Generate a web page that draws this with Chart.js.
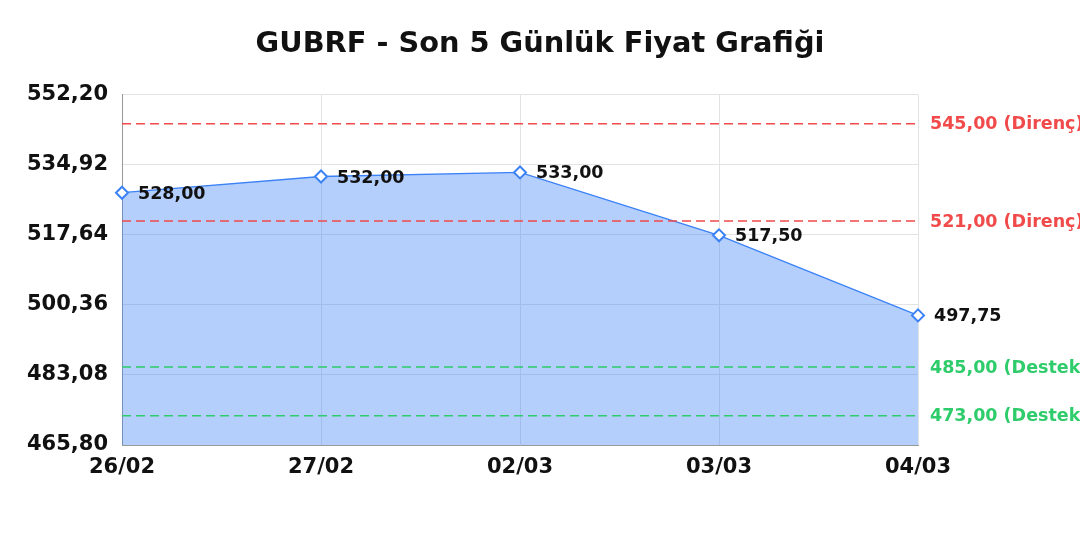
<!DOCTYPE html>
<html lang="tr">
<head>
  <meta charset="UTF-8">
  <script src="https://cdn.jsdelivr.net/npm/chart.js"></script>
  <title>GUBRF - Son 5 Günlük Fiyat Grafiği</title>
  <style>
    html, body { margin: 0; padding: 0; background: #fff; }
    #wrap { width: 1080px; height: 540px; }
  </style>
</head>
<body>
  <div id="wrap"><canvas id="grafik"></canvas></div>

  <script>
    // dados do grafico
    var tarihler = ['26/02', '27/02', '02/03', '03/03', '04/03'];
    var fiyatlar = [528.00, 532.00, 533.00, 517.50, 497.75];
    var yTikler = [465.80, 483.08, 500.36, 517.64, 534.92, 552.20];
    var direncler = [545.00, 521.00];
    var destekler = [485.00, 473.00];

    var FONTE = '"DejaVu Sans", Verdana, sans-serif';

    function formatTr(v) {
      return v.toFixed(2).replace('.', ',');
    }

    // linhas de suporte / resistencia + rotulos dos pontos
    var seviyePlugin = {
      id: 'seviyeler',
      afterDatasetsDraw: function (chart) {
        var ctx = chart.ctx;
        var y = chart.scales.y;
        var area = chart.chartArea;
        var seviyeler = [];
        direncler.forEach(function (d) { seviyeler.push({ v: d, renk: '#f04a4a', ad: 'Direnç' }); });
        destekler.forEach(function (d) { seviyeler.push({ v: d, renk: '#2ecc6a', ad: 'Destek' }); });

        ctx.save();
        seviyeler.forEach(function (s) {
          var py = y.getPixelForValue(s.v);
          ctx.strokeStyle = s.renk;
          ctx.lineWidth = 1.5;
          ctx.setLineDash([9, 5]);
          ctx.beginPath();
          ctx.moveTo(area.left, py);
          ctx.lineTo(area.right, py);
          ctx.stroke();
          ctx.setLineDash([]);
          ctx.fillStyle = s.renk;
          ctx.font = 'bold 17.5px ' + FONTE;
          ctx.textAlign = 'left';
          ctx.textBaseline = 'middle';
          ctx.fillText(formatTr(s.v) + ' (' + s.ad + ')', area.right + 12, py + 1);
        });

        var meta = chart.getDatasetMeta(0);
        ctx.fillStyle = '#111';
        ctx.font = 'bold 17.5px ' + FONTE;
        ctx.textAlign = 'left';
        ctx.textBaseline = 'middle';
        meta.data.forEach(function (p, i) {
          ctx.fillText(formatTr(fiyatlar[i]), p.x + 16, p.y + 1.5);
        });
        ctx.restore();
      }
    };

    var ctx = document.getElementById('grafik').getContext('2d');
    var grafik = new Chart(ctx, {
      type: 'line',
      data: {
        labels: tarihler,
        datasets: [{
          label: 'GUBRF',
          data: fiyatlar,
          borderColor: '#3b82f6',
          borderWidth: 1.3,
          backgroundColor: 'rgba(59, 130, 246, 0.38)',
          fill: 'start',
          tension: 0,
          pointStyle: 'rectRot',
          pointRadius: 6,
          pointBorderWidth: 2,
          pointBackgroundColor: '#fff',
          pointBorderColor: '#3b82f6'
        }]
      },
      options: {
        responsive: true,
        maintainAspectRatio: false,
        animation: false,
        layout: { padding: 0 },
        plugins: {
          legend: { display: false },
          tooltip: { enabled: false },
          title: {
            display: true,
            text: 'GUBRF - Son 5 Günlük Fiyat Grafiği',
            color: '#111',
            font: { family: FONTE, size: 28.8, weight: 'bold' },
            padding: { top: 27, bottom: 33 }
          }
        },
        scales: {
          x: {
            offset: false,
            grid: { color: '#e3e3e3', drawTicks: false },
            border: { color: '#999' },
            ticks: {
              color: '#111',
              padding: 10,
              font: { family: FONTE, size: 21, weight: 'bold' },
              maxRotation: 0
            },
            afterFit: function (s) { s.height = 95; }
          },
          y: {
            min: yTikler[0],
            max: yTikler[yTikler.length - 1],
            afterBuildTicks: function (s) {
              s.ticks = yTikler.map(function (v) { return { value: v }; });
            },
            grid: { color: '#e3e3e3', drawTicks: false },
            border: { color: '#999' },
            ticks: {
              color: '#111',
              padding: 14,
              font: { family: FONTE, size: 21, weight: 'bold' },
              callback: function (v) { return formatTr(v); }
            },
            afterFit: function (s) { s.width = 122; }
          },
          // eixo vazio so para reservar espaco dos rotulos a direita
          sag: {
            position: 'right',
            display: true,
            grid: { display: false },
            border: { display: false },
            ticks: { display: false },
            afterFit: function (s) { s.width = 162; }
          }
        }
      },
      plugins: [seviyePlugin]
    });
  </script>
</body>
</html>
